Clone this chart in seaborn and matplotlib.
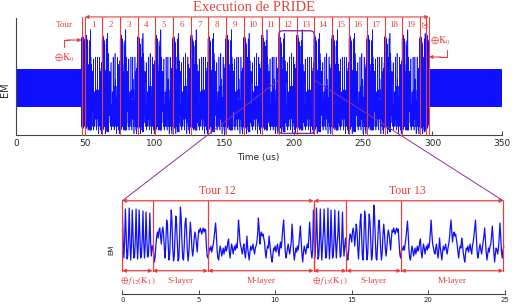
import numpy as np
import matplotlib
matplotlib.use("Agg")
import matplotlib.pyplot as plt
import matplotlib.transforms as mtransforms
from matplotlib.patches import FancyBboxPatch, ConnectionPatch
import seaborn as sns

# ------------------------------------------------------------------ data
# idle clock cycle seen before / after the PRIDE execution
idle_cycle = [67, 60, 47, 54]

# round 12 trace (0.05 us samples): key addition, S-layer, M-layer
r12_key = [84, 55, 36, 52, 85, 62, 35, 38, 56, 86, 52, 34, 50, 84, 60, 36, 37, 54,
           85, 53, 35, 51, 84, 58, 36, 38, 55, 83, 52, 36, 50, 82, 57, 37, 38, 54,
           81, 52, 38, 48]
r12_s = [48, 40, 32, 38, 50, 58, 62, 56,
         64, 66, 58, 50, 62, 67, 60, 45,
         36, 52, 74, 70, 50, 34, 40, 62,
         84, 72, 46, 33, 38, 60, 78, 70,
         50, 33, 36, 58, 87, 76, 52, 36,
         34, 48, 70, 76, 64, 44, 33, 40,
         58, 72, 62, 46, 38, 44, 56, 62,
         58, 50, 42, 55, 64, 62, 66, 63,
         60, 64, 66, 62, 65, 64, 48, 38]
r12_m = [36, 40, 46, 44, 48, 42, 46, 50, 56, 64,
         71, 60, 44, 36, 34, 42, 48, 44, 38, 42,
         46, 40, 44, 48, 43, 46, 52, 55, 42, 36,
         44, 50, 46, 40, 45, 48, 44, 50, 46, 56,
         74, 64, 52, 48, 44, 40, 46, 50, 42, 36,
         44, 58, 46, 40, 34, 42, 48, 44, 46, 50,
         44, 40, 46, 48, 52, 60, 76, 66, 50, 60,
         62, 58, 60, 56, 52, 42, 36, 44, 48, 46,
         58, 50, 42, 36, 32, 40, 46, 44, 48, 42,
         46, 50, 44, 38, 48, 52, 46, 56, 66, 74,
         60, 44, 36, 40, 46, 50, 44, 40, 46, 52,
         70, 58, 42, 34, 40, 46, 42, 48, 44, 50,
         60, 68, 52, 40, 32, 42, 48, 44, 40, 46,
         50, 46, 56, 72, 60, 42, 36, 44]

# round 13 trace
r13_key = [84, 55, 36, 52, 86, 60, 35, 38, 55, 85, 52, 34, 50, 62, 85, 58, 36, 37, 54,
           86, 53, 35, 51, 84, 58, 36, 38, 55, 84, 52, 36, 50, 60, 83, 57, 37, 38, 54,
           82, 52, 38, 48, 56]
r13_s = [46, 38, 34, 42, 54, 60, 58, 52,
         62, 66, 60, 48, 58, 70, 64, 46,
         35, 50, 72, 80, 60, 38, 34, 55,
         83, 76, 50, 34, 40, 62, 80, 72,
         52, 34, 38, 60, 89, 78, 54, 36,
         34, 50, 68, 74, 62, 44, 34, 42,
         60, 70, 60, 46, 38, 46, 58, 64,
         60, 52, 44, 56, 64, 62, 66, 63,
         60, 64, 66, 62, 65, 52, 40]
r13_m = [36, 42, 46, 44, 48, 44, 50, 56, 64, 73,
         60, 44, 36, 34, 42, 48, 44, 38, 42, 46,
         40, 44, 48, 43, 46, 52, 55, 42, 36, 44,
         50, 46, 40, 45, 48, 44, 50, 46, 52, 62,
         74, 60, 50, 46, 42, 40, 46, 50, 42, 36,
         44, 56, 46, 40, 34, 42, 48, 44, 46, 50,
         44, 40, 46, 50, 56, 66, 74, 62, 52, 60,
         62, 58, 60, 55, 50, 42, 36, 44, 48, 46,
         56, 50, 42, 36, 32, 40, 46, 44, 48, 42,
         46, 50, 44, 40, 48, 52, 58, 66, 74, 60,
         44, 36, 40, 46, 50, 44, 40, 46, 52, 58,
         66, 54, 42, 34, 40, 46, 42, 48, 50, 58,
         68, 56, 42, 32, 40, 46, 44, 40, 46, 56,
         71, 58, 42, 36, 44, 48]

# time boundaries (us) in the full trace: start of initial key add,
# starts of rounds 1..20, end of round 20, end of final key add
top_bounds = [47.3, 49.7, 62.1, 75.1, 87.6, 100.3, 113.0, 125.8, 138.4, 151.2,
              164.0, 176.9, 189.3, 202.1, 214.8, 227.5, 240.0, 252.8, 265.5,
              278.2, 290.9, 295.2, 297.4]
round_labels = [str(i) for i in range(1, 21)]
top_xticks = [0, 50, 100, 150, 200, 250, 300, 350]

# zoomed view: segment boundaries (us) for rounds 12 and 13
b12 = [0.0, 1.98, 5.61, 12.52]
b13 = [12.52, 14.66, 18.23, 24.92]
seg_labels_12 = [r"$\oplus\, f_{12}(\mathrm{K}_1)$", "S-layer", "M-layer"]
seg_labels_13 = [r"$\oplus\, f_{13}(\mathrm{K}_1)$", "S-layer", "M-layer"]
tour_labels = ["Tour 12", "Tour 13"]
bottom_xticks = [0, 5, 10, 15, 20, 25]
zoom_round = 12
dt = 0.05

# ------------------------------------------------------------------ style
sns.set_theme(style="white")
plt.rcParams["font.family"] = ["DejaVu Sans"]
plt.rcParams["mathtext.fontset"] = "stix"
SERIF = ["Liberation Serif", "DejaVu Serif"]
RED = "#e8403c"
PURPLE = "#8e2f9f"
BLUE = "#1010ff"
SPINE = "#444444"

fig = plt.figure(figsize=(5.12, 3.05), dpi=100)
ax = fig.add_axes([0.03125, 0.557, 0.949, 0.384])
ax2 = fig.add_axes([0.2389, 0.036, 0.7465, 0.308])

# ------------------------------------------------------------------ top trace
r12 = list(r12_key) + list(r12_s) + list(r12_m)
r13 = list(r13_key) + list(r13_s) + list(r13_m)
ts, ys = [], []


def add(seg, t0, t1):
    seg = np.asarray(seg, float)
    ts.append(np.linspace(t0, t1, len(seg), endpoint=False))
    ys.append(seg)


n_pre = int(round(top_bounds[0] / dt))
add(np.resize(idle_cycle, n_pre), 0, top_bounds[0])
add(r12_key, top_bounds[0], top_bounds[1])
for i in range(19):
    add(r12 if (i + 1) % 2 == 0 else r13, top_bounds[i + 1], top_bounds[i + 2])
add(r12[:86], top_bounds[20], top_bounds[21])
add(r13_key, top_bounds[21], top_bounds[22])
n_post = int(round((top_xticks[-1] - top_bounds[22]) / dt))
add(np.resize(idle_cycle, n_post), top_bounds[22], top_xticks[-1])
t_top = np.concatenate(ts)
y_top = np.concatenate(ys)

sns.lineplot(x=t_top, y=y_top, ax=ax, color=BLUE, linewidth=0.45,
             estimator=None, sort=False)
ax.set_xlim(0, 350)
ax.set_ylim(31.25, 95.4)
ax.set_xticks(top_xticks)
ax.set_xticklabels([str(v) for v in top_xticks])
ax.set_yticks([])
for s in ["top", "right"]:
    ax.spines[s].set_visible(False)
for s in ["left", "bottom"]:
    ax.spines[s].set_color(SPINE)
    ax.spines[s].set_linewidth(0.8)
ax.tick_params(axis="x", direction="in", length=3, width=0.7, color=SPINE,
               labelsize=6.5, pad=2.5, bottom=True)
ax.set_xlabel("Time (us)", fontsize=6.5)
ax.xaxis.set_label_coords(0.498, -0.155)
ax.set_ylabel("EM", fontsize=7)
ax.yaxis.set_label_coords(-0.0125, 0.385)

trans = mtransforms.blended_transform_factory(ax.transData, ax.transAxes)
ytop = 1.009
for x in top_bounds:
    ax.plot([x, x], [0, ytop], transform=trans, color=RED, lw=0.8,
            clip_on=False, zorder=3)
ax.annotate("", xy=(top_bounds[1], ytop), xytext=(top_bounds[-1], ytop),
            xycoords=trans, textcoords=trans,
            arrowprops=dict(arrowstyle="<|-|>", color=RED, lw=0.8,
                            mutation_scale=5, shrinkA=0, shrinkB=0))
for i, lab in enumerate(round_labels):
    xc = (top_bounds[i + 1] + top_bounds[i + 2]) / 2
    rot = 270 if i == 19 else 0
    ax.text(xc, 0.94, lab, transform=trans, ha="center", va="center",
            color=RED, fontsize=6.5 if i < 19 else 5.5, family=SERIF,
            rotation=rot)
ax.text(34.6, 0.94, "Tour", transform=trans, ha="center", va="center",
        color=RED, fontsize=6.5, family=SERIF)
ax.text(34.6, 0.667, r"$\oplus\mathrm{K}_0$", transform=trans, ha="center",
        va="center", color=RED, fontsize=7)
ax.plot([34.6, 34.6, 38], [0.752, 0.812, 0.812], transform=trans, color=RED,
        lw=0.8, clip_on=False)
ax.annotate("", xy=(top_bounds[0], 0.812), xytext=(37, 0.812),
            xycoords=trans, textcoords=trans,
            arrowprops=dict(arrowstyle="-|>", color=RED, lw=0.8,
                            mutation_scale=5, shrinkA=0, shrinkB=0))
ax.text(305.3, 0.812, r"$\oplus\mathrm{K}_0$", transform=trans, ha="center",
        va="center", color=RED, fontsize=7)
ax.plot([310.8, 310.8, 305], [0.726, 0.667, 0.667], transform=trans,
        color=RED, lw=0.8, clip_on=False)
ax.annotate("", xy=(top_bounds[-1], 0.667), xytext=(306, 0.667),
            xycoords=trans, textcoords=trans,
            arrowprops=dict(arrowstyle="-|>", color=RED, lw=0.8,
                            mutation_scale=5, shrinkA=0, shrinkB=0))
fig.text(0.497, 0.977, "Execution de PRIDE", ha="center", va="center",
         color=RED, fontsize=10.5, family=SERIF)

# ------------------------------------------------------------------ zoom trace
y_zoom = np.array(r12 + r13, float)
t_zoom = np.arange(len(y_zoom)) * dt
sns.lineplot(x=t_zoom, y=y_zoom, ax=ax2, color=BLUE, linewidth=0.9,
             estimator=None, sort=False)
ax2.set_xlim(0, 25)
ax2.set_ylim(0, 94)
ax2.set_xticks(bottom_xticks)
ax2.set_xticklabels([str(v) for v in bottom_xticks])
ax2.set_yticks([])
for s in ["top", "right", "left"]:
    ax2.spines[s].set_visible(False)
ax2.spines["bottom"].set_color(SPINE)
ax2.spines["bottom"].set_linewidth(0.8)
ax2.tick_params(axis="x", direction="in", length=3, width=0.7, color=SPINE,
                labelsize=5, pad=2.5, bottom=True)
ax2.set_ylabel("EM", fontsize=5)
ax2.yaxis.set_label_coords(-0.022, 0.468)

y_hi, y_lo = 93.3, 23.3
for bounds, segl, tour in [(b12, seg_labels_12, tour_labels[0]),
                           (b13, seg_labels_13, tour_labels[1])]:
    for x in bounds:
        ax2.plot([x, x], [y_lo, y_hi], color=RED, lw=0.9, clip_on=False,
                 zorder=3)
    ax2.annotate("", xy=(bounds[0], y_hi), xytext=(bounds[-1], y_hi),
                 arrowprops=dict(arrowstyle="<|-|>", color=RED, lw=0.9,
                                 mutation_scale=5, shrinkA=0, shrinkB=0),
                 annotation_clip=False)
    ax2.text((bounds[0] + bounds[-1]) / 2 - 0.05, 103, tour, ha="center",
             va="center", color=RED, fontsize=8.5, family=SERIF,
             clip_on=False)
    for j in range(3):
        ax2.annotate("", xy=(bounds[j], y_lo), xytext=(bounds[j + 1], y_lo),
                     arrowprops=dict(arrowstyle="<|-|>", color=RED, lw=0.9,
                                     mutation_scale=5, shrinkA=0, shrinkB=0),
                     annotation_clip=False)
        ax2.text((bounds[j] + bounds[j + 1]) / 2, 13.3, segl[j], ha="center",
                 va="center", color=RED, fontsize=6.5, family=SERIF)

# ------------------------------------------------------------------ purple zoom box
fig.canvas.draw()
i0 = zoom_round
x0 = ax.transData.transform((top_bounds[i0], 0))[0]
x1 = ax.transData.transform((top_bounds[i0 + 2], 0))[0]
yb = ax.transAxes.transform((0, 0.0145))[1]
yt = ax.transAxes.transform((0, 0.891))[1]
box = FancyBboxPatch((x0, yb), x1 - x0, yt - yb,
                     boxstyle="round,pad=0,rounding_size=4",
                     transform=None, fill=False, edgecolor=PURPLE, lw=1.0,
                     zorder=5)
fig.add_artist(box)
for xa, xb in [(top_bounds[i0], b12[0]), (top_bounds[i0 + 2], b13[-1])]:
    con = ConnectionPatch(xyA=(xa, 0.47), coordsA=trans,
                          xyB=(xb, y_hi), coordsB=ax2.transData,
                          color=PURPLE, lw=0.7, zorder=5)
    fig.add_artist(con)

fig.savefig("out.png", dpi=100)
